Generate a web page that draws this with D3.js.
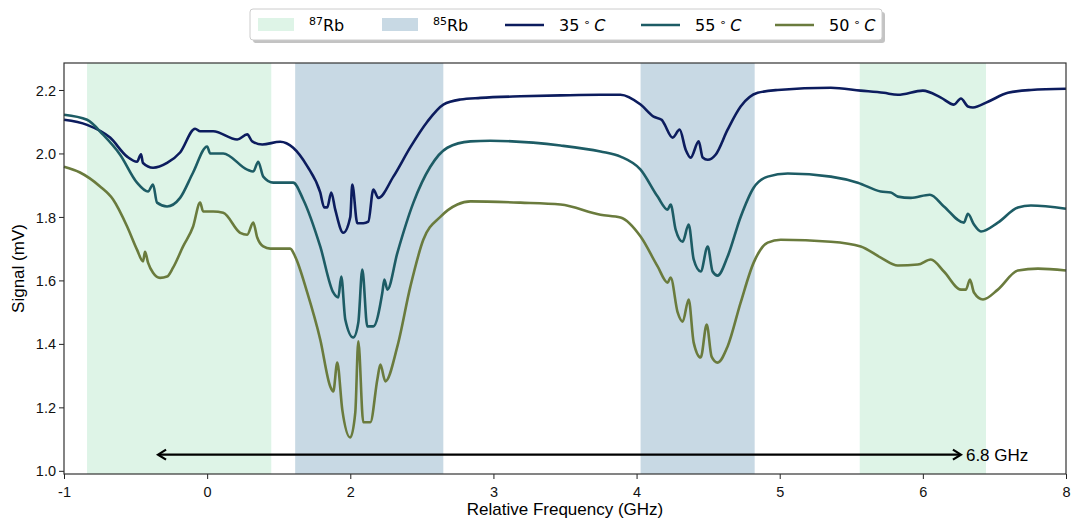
<!DOCTYPE html>
<html>
<head>
<meta charset="utf-8">
<script src="https://cdn.jsdelivr.net/npm/d3@7"></script>
<style>
  body { margin: 0; background: #fff; }
  text { font-family: "Liberation Sans", Arial, sans-serif; }
</style>
</head>
<body>
<div id="wrapper"></div>
<script>
// x values are in tick-index units (ticks sit at -1..6, labelled below)
const xTickPos = [-1, 0, 1, 2, 3, 4, 5, 6];
const xTickLabels = ["-1", "0", "2", "3", "4", "5", "6", "8"];
const yTicks = [1.0, 1.2, 1.4, 1.6, 1.8, 2.0, 2.2];

// shaded absorption regions [start, end, isotope]
const bands = [[-0.839, 0.448, "87"], [0.615, 1.650, "85"], [3.028, 3.825, "85"], [4.559, 5.441, "87"]];

const curve35 = [[-1.0, 2.106], [-0.839, 2.09], [-0.678, 2.05], [-0.559, 1.99], [-0.49, 1.974], [-0.462, 1.997],
  [-0.448, 1.97], [-0.378, 1.955], [-0.28, 1.97], [-0.189, 2.003], [-0.084, 2.078], [-0.049, 2.07], [0.042, 2.07],
  [0.21, 2.044], [0.28, 2.06], [0.315, 2.038], [0.385, 2.028], [0.51, 2.037], [0.601, 2.018], [0.699, 1.96],
  [0.79, 1.877], [0.818, 1.83], [0.839, 1.83], [0.867, 1.877], [0.895, 1.823], [0.951, 1.75], [1.0, 1.80],
  [1.014, 1.902], [1.049, 1.78], [1.091, 1.78], [1.126, 1.785], [1.161, 1.886], [1.196, 1.86], [1.301, 1.927],
  [1.42, 2.02], [1.538, 2.10], [1.65, 2.154], [1.769, 2.17], [1.909, 2.175], [2.189, 2.18], [2.469, 2.183],
  [2.748, 2.185], [2.888, 2.185], [3.028, 2.154], [3.119, 2.116], [3.175, 2.106], [3.189, 2.097], [3.252, 2.05],
  [3.301, 2.075], [3.343, 2.012], [3.378, 1.987], [3.434, 2.038], [3.462, 1.987], [3.497, 1.98], [3.552, 1.996],
  [3.636, 2.075], [3.727, 2.148], [3.846, 2.191], [3.986, 2.20], [4.357, 2.207], [4.566, 2.198], [4.727, 2.191],
  [4.825, 2.185], [5.0, 2.198], [5.126, 2.176], [5.217, 2.154], [5.266, 2.173], [5.315, 2.148], [5.35, 2.145],
  [5.455, 2.163], [5.594, 2.191], [5.755, 2.20], [6.0, 2.204]];

const curve55 = [[-1.0, 2.122], [-0.839, 2.106], [-0.727, 2.059], [-0.608, 1.996], [-0.49, 1.908], [-0.413, 1.88],
  [-0.378, 1.902], [-0.35, 1.845], [-0.28, 1.833], [-0.189, 1.86], [-0.098, 1.94], [0.0, 2.022], [0.021, 2.0],
  [0.112, 2.0], [0.28, 1.949], [0.322, 1.943], [0.357, 1.974], [0.392, 1.927], [0.462, 1.908], [0.601, 1.908],
  [0.671, 1.855], [0.79, 1.707], [0.881, 1.562], [0.916, 1.546], [0.937, 1.612], [0.965, 1.477], [1.021, 1.42],
  [1.056, 1.467], [1.084, 1.634], [1.119, 1.455], [1.161, 1.455], [1.224, 1.562], [1.238, 1.603], [1.259, 1.571],
  [1.329, 1.687], [1.441, 1.845], [1.559, 1.958], [1.678, 2.018], [1.839, 2.038], [1.979, 2.04], [2.469, 2.025],
  [2.748, 2.006], [2.888, 1.99], [3.028, 1.949], [3.147, 1.864], [3.217, 1.823], [3.238, 1.839], [3.273, 1.76],
  [3.322, 1.722], [3.364, 1.776], [3.399, 1.666], [3.448, 1.628], [3.497, 1.707], [3.531, 1.628], [3.566, 1.615],
  [3.636, 1.675], [3.727, 1.80], [3.818, 1.892], [3.916, 1.927], [4.056, 1.937], [4.357, 1.927], [4.545, 1.908],
  [4.706, 1.88], [4.776, 1.877], [4.825, 1.864], [4.916, 1.86], [5.049, 1.87], [5.147, 1.833], [5.287, 1.782],
  [5.315, 1.81], [5.357, 1.776], [5.406, 1.754], [5.524, 1.782], [5.664, 1.83], [5.755, 1.836], [6.0, 1.826]];

const curve50 = [[-1.0, 1.958], [-0.888, 1.94], [-0.748, 1.896], [-0.657, 1.855], [-0.559, 1.77], [-0.49, 1.697],
  [-0.448, 1.66], [-0.434, 1.69], [-0.413, 1.656], [-0.378, 1.624], [-0.329, 1.608], [-0.28, 1.612], [-0.238, 1.64],
  [-0.168, 1.707], [-0.098, 1.77], [-0.049, 1.845], [-0.028, 1.817], [0.042, 1.817], [0.112, 1.813], [0.231, 1.75],
  [0.28, 1.744], [0.322, 1.782], [0.35, 1.735], [0.392, 1.707], [0.441, 1.70], [0.58, 1.70], [0.615, 1.675],
  [0.699, 1.562], [0.79, 1.414], [0.86, 1.266], [0.881, 1.25], [0.909, 1.341], [0.944, 1.193], [1.0, 1.105],
  [1.035, 1.184], [1.056, 1.408], [1.091, 1.153], [1.14, 1.153], [1.189, 1.288], [1.21, 1.335], [1.245, 1.282],
  [1.329, 1.392], [1.42, 1.581], [1.51, 1.728], [1.629, 1.80], [1.748, 1.839], [1.839, 1.849], [2.189, 1.845],
  [2.469, 1.839], [2.748, 1.807], [2.888, 1.798], [3.028, 1.738], [3.147, 1.644], [3.217, 1.593], [3.238, 1.609],
  [3.287, 1.499], [3.322, 1.47], [3.364, 1.54], [3.399, 1.404], [3.448, 1.357], [3.49, 1.461], [3.524, 1.36],
  [3.566, 1.341], [3.636, 1.392], [3.727, 1.53], [3.818, 1.656], [3.916, 1.719], [4.007, 1.728], [4.357, 1.722],
  [4.566, 1.707], [4.706, 1.672], [4.825, 1.647], [4.965, 1.65], [5.056, 1.666], [5.147, 1.628], [5.266, 1.571],
  [5.301, 1.571], [5.329, 1.603], [5.357, 1.562], [5.42, 1.54], [5.524, 1.571], [5.664, 1.631], [5.804, 1.637],
  [6.0, 1.631]];

const seriesNames = ["35", "55", "50"];
const seriesData = [curve35, curve55, curve50];

// 6.8 GHz double arrow: x from, x to, signal level
const arrowSpan = [-0.343, 5.266, 1.051];
const arrowLabel = "6.8 GHz";

const width = 1071;
const height = 521;
const margin = {top: 63, right: 5, bottom: 47, left: 64};
const innerW = 1066 - margin.left;
const innerH = 474 - margin.top;

const bandColor = {"87": "#def4e7", "85": "#c8d9e4"};
const lineColor = {"35": "#0c1c5e", "55": "#1d5c65", "50": "#6a7b3d"};

const svg = d3.select("#wrapper")
    .append("svg")
    .attr("width", width)
    .attr("height", height);

const x = d3.scaleLinear().domain([-1, 6]).range([0, innerW]);
const y = d3.scaleLinear().domain([0.99, 2.285]).range([innerH, 0]);

const bounds = svg.append("g")
    .attr("transform", `translate(${margin.left},${margin.top})`);

bounds.selectAll("rect.band")
    .data(bands)
    .enter()
    .append("rect")
    .attr("class", "band")
    .attr("x", d => x(d[0]))
    .attr("width", d => x(d[1]) - x(d[0]))
    .attr("y", 0)
    .attr("height", innerH)
    .attr("fill", d => bandColor[d[2]]);

const line = d3.line()
    .curve(d3.curveMonotoneX)
    .x(d => x(d[0]))
    .y(d => y(d[1]));

seriesData.forEach((data, i) => {
    bounds.append("path")
        .datum(data)
        .attr("d", line)
        .attr("fill", "none")
        .attr("stroke", lineColor[seriesNames[i]])
        .attr("stroke-width", 2.6)
        .attr("stroke-linejoin", "round");
});

// arrow
const ay = y(arrowSpan[2]);
const ax1 = x(arrowSpan[0]);
const ax2 = x(arrowSpan[1]);
bounds.append("line")
    .attr("x1", ax1 + 1).attr("x2", ax2 - 1)
    .attr("y1", ay).attr("y2", ay)
    .attr("stroke", "#000").attr("stroke-width", 2.2);
bounds.append("path")
    .attr("d", `M${ax1 + 8},${ay - 5}L${ax1},${ay}L${ax1 + 8},${ay + 5}`)
    .attr("fill", "none").attr("stroke", "#000").attr("stroke-width", 2.2);
bounds.append("path")
    .attr("d", `M${ax2 - 8},${ay - 5}L${ax2},${ay}L${ax2 - 8},${ay + 5}`)
    .attr("fill", "none").attr("stroke", "#000").attr("stroke-width", 2.2);
bounds.append("text")
    .attr("x", ax2 + 5)
    .attr("y", ay + 6)
    .style("font-size", "17px")
    .text(arrowLabel);

// axes
const xAxis = bounds.append("g")
    .attr("transform", `translate(0,${innerH})`)
    .call(d3.axisBottom(x).tickValues(xTickPos).tickFormat((d, i) => xTickLabels[i]).tickSize(5).tickSizeOuter(0));
const yAxis = bounds.append("g")
    .call(d3.axisLeft(y).tickValues(yTicks).tickFormat(d3.format(".1f")).tickSize(5).tickSizeOuter(0));

[xAxis, yAxis].forEach(a => {
    a.select(".domain").remove();
    a.selectAll("line").attr("stroke", "#222");
    a.selectAll("text").style("font-size", "14.5px").attr("fill", "#111")
        .style("font-family", "'Liberation Sans', Arial, sans-serif");
});
xAxis.selectAll("text").attr("dy", "1.05em");
yAxis.selectAll("text").attr("dy", "0.35em").attr("x", -8);

bounds.append("rect")
    .attr("width", innerW).attr("height", innerH)
    .attr("fill", "none").attr("stroke", "#333").attr("stroke-width", 1.2);

bounds.append("text")
    .attr("x", innerW / 2)
    .attr("y", innerH + 41)
    .attr("text-anchor", "middle")
    .style("font-size", "17px")
    .text("Relative Frequency (GHz)");

bounds.append("text")
    .attr("transform", `translate(${-40},${innerH / 2}) rotate(-90)`)
    .attr("text-anchor", "middle")
    .style("font-size", "17px")
    .text("Signal (mV)");

// legend
const legend = svg.append("g").attr("transform", "translate(250,9)");
legend.append("rect")
    .attr("x", 3).attr("y", 3).attr("width", 632).attr("height", 31)
    .attr("rx", 3).attr("fill", "#888").attr("opacity", 0.5);
legend.append("rect")
    .attr("width", 632).attr("height", 31).attr("rx", 3)
    .attr("fill", "#fff").attr("stroke", "#ccc");

const legendFont = "'DejaVu Sans', sans-serif";
[["87", 8], ["85", 132]].forEach(([iso, lx]) => {
    legend.append("rect")
        .attr("x", lx).attr("y", 9).attr("width", 36).attr("height", 13)
        .attr("fill", bandColor[iso]);
    const t = legend.append("text")
        .attr("x", lx + 51).attr("y", 22)
        .style("font-family", legendFont).style("font-size", "16px");
    t.append("tspan").attr("dy", "-6").style("font-size", "11px").text(iso);
    t.append("tspan").attr("dy", "6").text("Rb");
});
seriesNames.forEach((name, i) => {
    const lx = [255, 391, 525][i];
    legend.append("line")
        .attr("x1", lx).attr("x2", lx + 39).attr("y1", 16).attr("y2", 16)
        .attr("stroke", lineColor[name]).attr("stroke-width", 2.6);
    const t = legend.append("text")
        .attr("x", lx + 54).attr("y", 22)
        .style("font-family", legendFont).style("font-size", "16px");
    t.append("tspan").text(name);
    t.append("tspan").attr("dx", 4).attr("dy", -5).style("font-size", "11px").text("\u2218");
    t.append("tspan").attr("dx", 4).attr("dy", 5).style("font-style", "italic").text("C");
});
</script>
</body>
</html>
